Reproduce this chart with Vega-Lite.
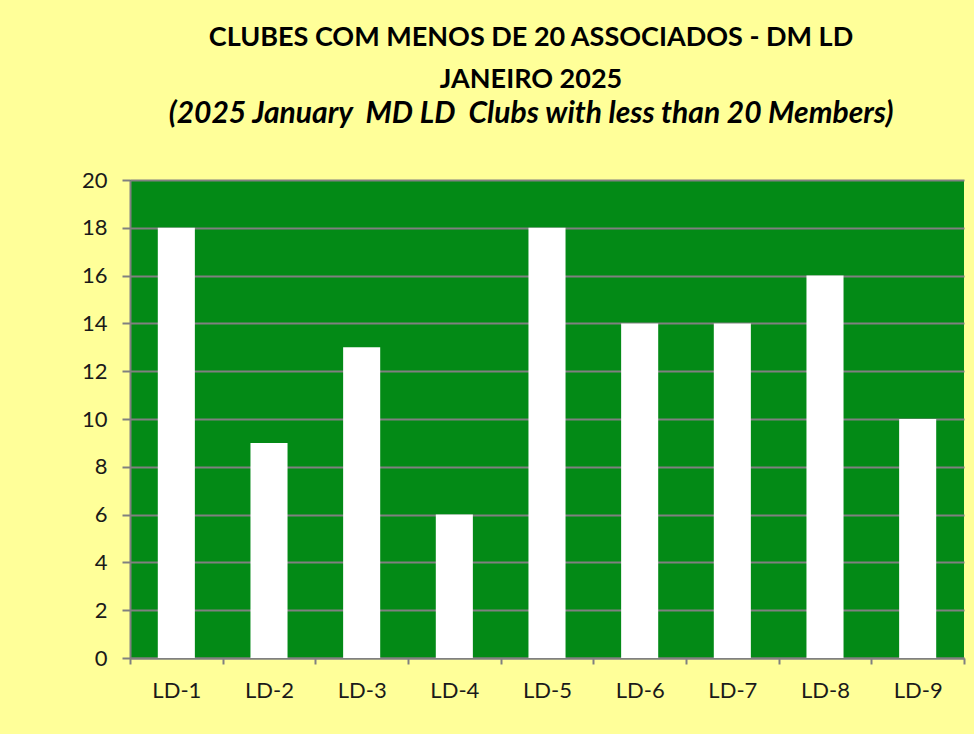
{
  "$schema": "https://vega.github.io/schema/vega-lite/v6.json",
  "width": 834,
  "height": 478,
  "autosize": {"type": "none"},
  "padding": {"left": 130, "top": 180, "right": 10, "bottom": 76},
  "background": "#FFFF99",
  "title": {
    "text": ["CLUBES COM MENOS DE 20 ASSOCIADOS - DM LD", "JANEIRO 2025"],
    "subtitle": "(2025 January\u00a0 MD LD\u00a0 Clubs with less than 20 Members)",
    "anchor": "middle",
    "frame": "group",
    "dx": -16,
    "offset": 39,
    "font": "Lato",
    "fontSize": 27,
    "fontWeight": "bold",
    "color": "#000000",
    "lineHeight": 42,
    "subtitleFont": "Lato",
    "subtitleFontSize": 30,
    "subtitleFontWeight": "bold",
    "subtitleFontStyle": "italic",
    "subtitleColor": "#000000",
    "subtitlePadding": 5
  },
  "data": {
    "values": [
      {"distrito": "LD-1", "clubes": 18},
      {"distrito": "LD-2", "clubes": 9},
      {"distrito": "LD-3", "clubes": 13},
      {"distrito": "LD-4", "clubes": 6},
      {"distrito": "LD-5", "clubes": 18},
      {"distrito": "LD-6", "clubes": 14},
      {"distrito": "LD-7", "clubes": 14},
      {"distrito": "LD-8", "clubes": 16},
      {"distrito": "LD-9", "clubes": 10}
    ]
  },
  "mark": {"type": "bar", "color": "#FFFFFF", "width": {"band": 0.4}},
  "encoding": {
    "x": {
      "field": "distrito",
      "type": "nominal",
      "sort": null,
      "scale": {"paddingInner": 0, "paddingOuter": 0},
      "axis": {
        "title": null,
        "labelAngle": 0,
        "tickBand": "extent",
        "domainColor": "#808080",
        "domainWidth": 2,
        "tickColor": "#808080",
        "tickWidth": 2,
        "tickSize": 6,
        "labelPadding": 16,
        "labelFont": "Lato",
        "labelFontSize": 22,
        "labelColor": "#1a1a1a",
        "grid": false
      }
    },
    "y": {
      "field": "clubes",
      "type": "quantitative",
      "scale": {"domain": [0, 20], "nice": false},
      "axis": {
        "title": null,
        "values": [0, 2, 4, 6, 8, 10, 12, 14, 16, 18, 20],
        "domainColor": "#808080",
        "domainWidth": 2,
        "tickColor": "#808080",
        "tickWidth": 2,
        "tickSize": 8,
        "labelPadding": 15,
        "labelFont": "Lato",
        "labelFontSize": 22,
        "labelColor": "#1a1a1a",
        "grid": true,
        "gridColor": "#808080",
        "gridWidth": 2,
        "gridOpacity": 1
      }
    }
  },
  "config": {
    "view": {"fill": "#038A16", "stroke": null}
  }
}
